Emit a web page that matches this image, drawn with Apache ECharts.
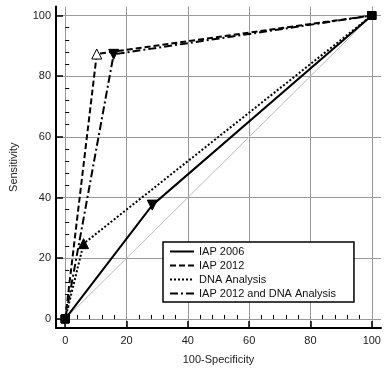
<!DOCTYPE html>
<html>
<head>
<meta charset="utf-8">
<script src="https://cdn.jsdelivr.net/npm/echarts@6/dist/echarts.min.js"></script>
<style>html,body{margin:0;padding:0;background:#fff}#c{width:384px;height:370px}</style>
</head>
<body>
<div id="c"></div>
<script>
var seriesNames = ['IAP 2006', 'IAP 2012', 'DNA Analysis', 'IAP 2012 and DNA Analysis'];
// 100-Specificity (x) and Sensitivity (y) for each curve
var iap2006X = [0, 28.4, 100];
var iap2006Y = [0, 37.5, 100];
var iap2012X = [0, 10.3, 100];
var iap2012Y = [0, 87.3, 100];
var dnaX = [0, 6, 100];
var dnaY = [0, 24.8, 100];
var comboX = [0, 15.8, 100];
var comboY = [0, 87.2, 100];
var diagX = [0, 100];
var diagY = [0, 100];
var majorTicks = [0, 20, 40, 60, 80, 100];
var minorTicks = [4, 8, 12, 16, 24, 28, 32, 36, 44, 48, 52, 56, 64, 68, 72, 76, 84, 88, 92, 96];

var font = "'Liberation Sans', Arial, sans-serif";
var chart = echarts.init(document.getElementById('c'));

function pts(xs, ys) { return xs.map(function (x, i) { return [x, ys[i]]; }); }

function makeSeries(name, xs, ys, dash, midSym) {
  var p = pts(xs, ys);
  var data = p.map(function (v, i) {
    var o = { value: v, symbol: 'rect', symbolSize: 8, itemStyle: { color: '#000', borderColor: '#000', borderWidth: 1 } };
    if (i === 1) {
      o.symbol = 'triangle';
      o.symbolSize = 10;
      o.symbolRotate = midSym.rot;
      o.itemStyle = { color: midSym.fill, borderColor: '#000', borderWidth: 1 };
    }
    return o;
  });
  return {
    name: name, type: 'line', data: data, z: 5,
    lineStyle: { color: '#000', width: 2, type: dash },
    itemStyle: { color: '#000' },
    animation: false
  };
}

var minorAxisCommon = {
  type: 'value', min: -3, max: 103, show: true,
  axisLine: { show: false }, axisLabel: { show: false }, splitLine: { show: false },
  axisTick: { show: true, inside: true, length: 4, lineStyle: { color: '#000', width: 1 }, customValues: minorTicks }
};

chart.setOption({
  backgroundColor: '#fff',
  animation: false,
  grid: { left: 52, right: 3, top: 6.4, bottom: 34.4, containLabel: false },
  xAxis: [{
    type: 'value', min: -3, max: 103, position: 'bottom',
    name: '100-Specificity', nameLocation: 'middle', nameGap: 26,
    nameTextStyle: { fontFamily: font, fontSize: 11, color: '#222' },
    axisLine: { onZero: false, lineStyle: { color: '#000', width: 2 } },
    axisTick: { inside: true, length: 7, lineStyle: { color: '#000', width: 1.5 }, customValues: majorTicks },
    axisLabel: { customValues: majorTicks, fontFamily: font, fontSize: 11, color: '#222', margin: 7 },
    splitLine: { show: true, lineStyle: { color: '#999', width: 1 } }
  }, Object.assign({ position: 'bottom' }, minorAxisCommon)],
  yAxis: [{
    type: 'value', min: -3, max: 103, position: 'left',
    name: 'Sensitivity', nameLocation: 'middle', nameGap: 37, nameRotate: 90,
    nameTextStyle: { fontFamily: font, fontSize: 11, color: '#222' },
    axisLine: { onZero: false, lineStyle: { color: '#000', width: 2 } },
    axisTick: { inside: true, length: 7, lineStyle: { color: '#000', width: 1.5 }, customValues: majorTicks },
    axisLabel: { customValues: majorTicks, fontFamily: font, fontSize: 11, color: '#222', margin: 5 },
    splitLine: { show: true, lineStyle: { color: '#999', width: 1 } }
  }, Object.assign({ position: 'left' }, minorAxisCommon)],
  legend: {
    orient: 'vertical', left: 163, top: 242,
    data: seriesNames,
    padding: [4, 18, 3, 6], itemGap: 3, itemWidth: 24, itemHeight: 11,
    borderColor: '#000', borderWidth: 1.5, backgroundColor: '#fff',
    textStyle: { fontFamily: font, fontSize: 11, color: '#111' },
    itemStyle: { opacity: 0 }
  },
  series: [
    {
      name: 'ref', type: 'line', data: pts(diagX, diagY), symbol: 'none', z: 1,
      lineStyle: { color: '#bbb', width: 1 }, silent: true
    },
    makeSeries(seriesNames[0], iap2006X, iap2006Y, 'solid', { rot: 180, fill: '#000' }),
    makeSeries(seriesNames[1], iap2012X, iap2012Y, [6, 3], { rot: 0, fill: '#fff' }),
    makeSeries(seriesNames[2], dnaX, dnaY, [2, 2], { rot: 0, fill: '#000' }),
    makeSeries(seriesNames[3], comboX, comboY, [8, 3, 2, 3], { rot: 180, fill: '#000' })
  ]
});
</script>
</body>
</html>
